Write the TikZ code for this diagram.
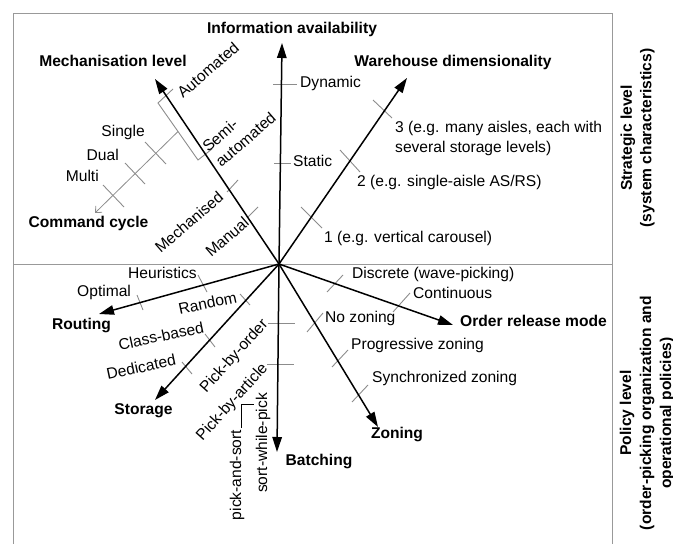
\documentclass[tikz,border=0pt]{standalone}
\usepackage{fontspec}
\setmainfont{Liberation Sans}
\usetikzlibrary{arrows.meta}
\begin{document}
\begin{tikzpicture}[x=1bp,y=1bp,
  axis/.style={black,line width=1.5bp,-{Triangle[length=15bp,width=9.5bp]}},
  subaxis/.style={black!45,line width=0.8bp,-{Straight Barb[length=5bp,width=9bp]}},
  tick/.style={black!45,line width=0.9bp},
  frame/.style={black!40,line width=1bp},
  lbl/.style={font=\fontsize{15.6bp}{20bp}\selectfont,text height=11.2bp,text depth=3.3bp},
  ttl/.style={lbl,font=\fontsize{15.6bp}{20bp}\selectfont\bfseries},
  blk/.style={font=\fontsize{15.6bp}{20bp}\selectfont}]
\tikzstyle{every node}+=[inner sep=0pt]
\useasboundingbox (0,0) rectangle (673,-544);
\draw [frame] (13,-544) -- (13,-14) -- (612,-14) -- (612,-544);
\draw [frame] (13,-264) -- (612,-264);
\coordinate (o) at (279,-264);
\coordinate (info) at (282,-43);
\coordinate (mech) at (155,-79);
\coordinate (ware) at (407,-78);
\coordinate (order) at (453,-325);
\coordinate (zone) at (378,-427);
\coordinate (batch) at (277,-452);
\coordinate (store) at (155,-400);
\coordinate (route) at (99,-314);
\coordinate (brk) at (178,-131.5);
\coordinate (cycle) at (95,-213);
\draw [tick] (273,-84) -- (297,-84);
\draw [tick] (274,-163) -- (291,-163);
\draw [tick] (173,-89) -- (158,-103) -- (198,-160) -- (212,-149);
\draw [tick] (227,-192) -- (238,-180);
\draw [tick] (247,-218) -- (258,-207);
\draw [tick] (373,-100) -- (392,-118);
\draw [tick] (340,-150) -- (360,-172);
\draw [tick] (301,-207) -- (322,-228);
\draw [tick] (145,-142) -- (166,-164);
\draw [tick] (125,-163) -- (145,-184);
\draw [tick] (103,-185) -- (124,-207);
\draw [tick] (198,-275) -- (207,-292);
\draw [tick] (137,-295) -- (143,-310);
\draw [tick] (240,-294) -- (250,-305);
\draw [tick] (205,-334) -- (215,-347);
\draw [tick] (182,-362) -- (192,-374);
\draw [tick] (268,-323) -- (295,-323);
\draw [tick] (267,-364) -- (294,-364);
\draw [tick] (327,-292) -- (343,-275);
\draw [tick] (393,-312) -- (410,-293);
\draw [tick] (307,-332) -- (323,-313);
\draw [tick] (332,-367) -- (348,-350);
\draw [tick] (352,-402) -- (368,-385);
\draw [black] (241,-428) -- (241,-404) -- (254,-404);
\draw [subaxis] (brk) -- (cycle);
\draw [axis] (o) -- (info);
\draw [axis] (o) -- (mech);
\draw [axis] (o) -- (ware);
\draw [axis] (o) -- (order);
\draw [axis] (o) -- (zone);
\draw [axis] (o) -- (batch);
\draw [axis] (o) -- (store);
\draw [axis] (o) -- (route);
\node [ttl] (infol) at (292,-30) {Information availability};
\node [ttl] (mechl) at (113,-63) {Mechanisation level};
\node [ttl] (warel) at (453,-63) {Warehouse dimensionality};
\node [ttl] (cyclel) at (88.5,-224) {Command cycle};
\node [ttl] (routel) at (81.5,-326) {Routing};
\node [ttl] (storel) at (143.5,-411) {Storage};
\node [ttl] (batchl) at (319,-462) {Batching};
\node [ttl] (zonel) at (397,-435) {Zoning};
\node [ttl] (orderl) at (533.5,-323) {Order release mode};
\node [blk,font=\fontsize{15.6bp}{19.5bp}\selectfont\bfseries,rotate=90,align=center] (strat) at (637.5,-138) {Strategic level\\(system characteristics)};
\node [blk,font=\fontsize{15.6bp}{20bp}\selectfont\bfseries,rotate=90,align=center] (policy) at (647,-413) {Policy level\\(order-picking organization and\\operational policies)};
\node [lbl,anchor=west] (dyn) at (300,-84) {Dynamic};
\node [lbl,anchor=west] (stat) at (293,-163) {Static};
\node [blk,rotate=41] (auto) at (208,-70) {Automated};
\node [blk,rotate=41,align=left] (semi) at (239,-132) {Semi-\\automated};
\node [blk,rotate=41] (mechd) at (189,-222) {Mechanised};
\node [blk,rotate=41] (manual) at (227,-237) {Manual};
\node [lbl,anchor=east] (single) at (145,-133) {Single};
\node [lbl,anchor=east] (dual) at (119,-157) {Dual};
\node [lbl,anchor=east] (multi) at (99,-178) {Multi};
\node [blk,anchor=west,align=left] (three) at (395,-138) {3 (e.g. many aisles, each with\\several storage levels)};
\node [lbl,anchor=west] (two) at (357,-183) {2 (e.g. single-aisle AS/RS)};
\node [lbl,anchor=west] (one) at (324,-239) {1 (e.g. vertical carousel)};
\node [lbl,anchor=west] (heur) at (128,-275) {Heuristics};
\node [lbl,anchor=west] (opt) at (77,-293) {Optimal};
\node [blk,rotate=12] (rand) at (207.5,-303) {Random};
\node [blk,rotate=12] (cls) at (161,-336) {Class-based};
\node [blk,rotate=12] (ded) at (141,-367) {Dedicated};
\node [blk,rotate=48] (pbo) at (234.5,-356.5) {Pick-by-order};
\node [blk,rotate=48] (pba) at (232.5,-402.5) {Pick-by-article};
\node [blk,rotate=90] (pas) at (237,-475) {pick-and-sort};
\node [blk,rotate=90] (swp) at (263,-443) {sort-while-pick};
\node [lbl,anchor=west] (disc) at (352,-275) {Discrete (wave-picking)};
\node [lbl,anchor=west] (cont) at (413,-295) {Continuous};
\node [lbl,anchor=west] (noz) at (325,-319) {No zoning};
\node [lbl,anchor=west] (prog) at (351,-346) {Progressive zoning};
\node [lbl,anchor=west] (sync) at (372,-379) {Synchronized zoning};
\end{tikzpicture}
\end{document}
